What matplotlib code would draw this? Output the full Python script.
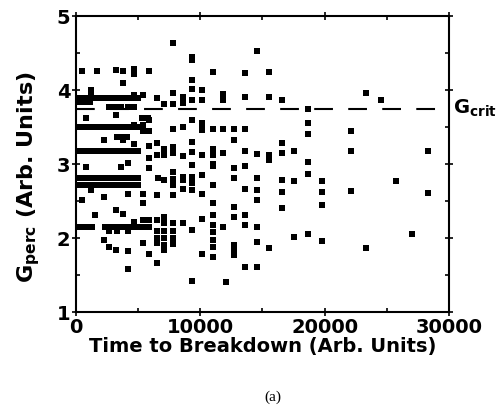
import matplotlib
matplotlib.use('Agg')
import matplotlib.pyplot as plt
from matplotlib.ticker import MultipleLocator

plt.rcParams['font.family'] = 'DejaVu Sans'
plt.rcParams['font.weight'] = 'bold'
plt.rcParams['mathtext.fontset'] = 'custom'
plt.rcParams['mathtext.rm'] = 'DejaVu Sans:bold'
plt.rcParams['mathtext.bf'] = 'DejaVu Sans:bold'
plt.rcParams['lines.scale_dashes'] = False

# early, dense part of the data (t < 7000)
time_early = [460, 1690, 3220, 3750, 4690, 4690, 5890,
              3750, 1210, 1210, 4690, 5360,
              160, 550, 950, 1350, 1750, 2150, 2550, 2950, 3350, 3750, 4150, 4550, 5000, 6510,
              160, 650, 1100,
              2650, 3150, 3650, 4150, 4650,
              3220, 800, 5300, 5800, 4690, 5890, 5360,
              160, 500, 900, 1300, 1700, 2100, 2500, 2900, 3300, 3700, 4100, 4500, 5000,
              5360, 5890,
              3300, 3700, 4100, 2280, 3750, 4690, 5890, 6510,
              160, 500, 900, 1300, 1700, 2100, 2500, 2900, 3300, 3700, 4100, 4500, 5000,
              6510, 5890, 4160, 800, 3620, 5890,
              160, 550, 950, 1350, 1750, 2150, 2550, 2950, 3350, 3750, 4150, 4550, 5000, 6630,
              160, 550, 950, 1350, 1750, 2150, 2550, 2950, 3350, 3750, 4150, 4550, 5000,
              1210, 4160, 5360, 6510, 2280, 500, 5360,
              3220, 3750, 1500, 5360, 5890, 4690, 6510,
              160, 500, 900, 1300, 2300, 2700, 3100, 3500, 3900, 4300, 4700, 5100, 5500, 5900,
              2650, 3300, 4200, 6510,
              6510, 2280, 5360, 6510, 2650, 3220, 4160, 5890, 6510, 4160]
g_early = [4.26, 4.26, 4.27, 4.26, 4.29, 4.22, 4.26,
           4.09, 4.00, 3.93, 3.93, 3.93,
           3.89, 3.89, 3.89, 3.89, 3.89, 3.89, 3.89, 3.89, 3.89, 3.89, 3.89, 3.89, 3.89, 3.89,
           3.84, 3.84, 3.84,
           3.77, 3.77, 3.77, 3.77, 3.77,
           3.66, 3.62, 3.62, 3.62, 3.53, 3.59, 3.53,
           3.50, 3.50, 3.50, 3.50, 3.50, 3.50, 3.50, 3.50, 3.50, 3.50, 3.50, 3.50, 3.50,
           3.45, 3.45,
           3.37, 3.37, 3.37, 3.32, 3.32, 3.27, 3.25, 3.28,
           3.17, 3.17, 3.17, 3.17, 3.17, 3.17, 3.17, 3.17, 3.17, 3.17, 3.17, 3.17, 3.17,
           3.12, 3.08, 3.02, 2.96, 2.96, 2.94,
           2.81, 2.81, 2.81, 2.81, 2.81, 2.81, 2.81, 2.81, 2.81, 2.81, 2.81, 2.81, 2.81, 2.81,
           2.72, 2.72, 2.72, 2.72, 2.72, 2.72, 2.72, 2.72, 2.72, 2.72, 2.72, 2.72, 2.72,
           2.65, 2.60, 2.60, 2.58, 2.56, 2.51, 2.47,
           2.38, 2.33, 2.31, 2.25, 2.24, 2.22, 2.24,
           2.15, 2.15, 2.15, 2.15, 2.15, 2.15, 2.15, 2.15, 2.15, 2.15, 2.15, 2.15, 2.15, 2.15,
           2.10, 2.10, 2.10, 2.10,
           2.00, 1.97, 1.93, 1.93, 1.88, 1.84, 1.83, 1.79, 1.66, 1.58]

# later times, roughly in columns
time_late = [7100] * 10 + [7840] * 14 + [8580] * 8 + [9330] * 14 + [10130] * 10 + \
    [10990] * 14 + [11790] * 5 + [12060] + [12680] * 9 + [13590] * 9 + [14530] * 8 + \
    [15520] * 5 + [16540] * 6 + [17550] * 3 + [18680] * 6 + [19750] * 4 + [22110] * 3 + \
    [23300] * 2 + [24520] + [25730] + [26990] + [28320] * 2
g_late = [3.81, 3.20, 3.12, 2.79, 2.29, 2.20, 2.10, 2.00, 1.90, 1.84,
          4.63, 3.96, 3.81, 3.48, 3.23, 3.15, 2.89, 2.80, 2.72, 2.58, 2.20, 2.10, 2.00, 1.92,
          3.90, 3.82, 3.50, 3.11, 2.83, 2.78, 2.66, 2.20,
          4.45, 4.40, 4.13, 4.02, 3.87, 3.59, 3.30, 3.16, 2.99, 2.83, 2.75, 2.65, 2.11, 1.42,
          4.00, 3.87, 3.56, 3.53, 3.46, 3.12, 2.85, 2.60, 2.26, 1.78,
          4.25, 3.48, 3.20, 3.12, 3.00, 2.97, 2.72, 2.47, 2.31, 2.18, 2.08, 1.97, 1.88, 1.75,
          3.95, 3.87, 3.48, 3.15, 2.15,
          1.40,
          3.47, 3.32, 2.94, 2.81, 2.42, 2.28, 1.90, 1.84, 1.77,
          4.23, 3.90, 3.48, 3.17, 2.97, 2.66, 2.31, 2.17, 1.61,
          4.53, 3.14, 2.81, 2.65, 2.52, 2.15, 1.95, 1.61,
          4.25, 3.90, 3.12, 3.05, 1.86,
          3.87, 3.28, 3.15, 2.78, 2.62, 2.41,
          3.17, 2.77, 2.01,
          3.75, 3.56, 3.41, 3.03, 2.87, 2.05,
          2.77, 2.62, 2.45, 1.96,
          3.44, 3.17, 2.63,
          3.96, 1.86,
          3.87, 2.77, 2.06,
          3.17, 2.61]

g_crit = 3.75
crit_end = 29200

fig = plt.figure(figsize=(4.98, 4.15), dpi=100)
ax = fig.add_axes([0.1526, 0.248, 0.749, 0.7134])

ax.plot(time_early, g_early, 's', color='black', ms=4.8, mew=0)
ax.plot(time_late, g_late, 's', color='black', ms=4.8, mew=0)
ax.plot([0, crit_end], [g_crit, g_crit], color='black', lw=1.5, dashes=(13.5, 11))

ax.set_xlim(0, 30000)
ax.set_ylim(1, 5)
ax.xaxis.set_major_locator(MultipleLocator(10000))
ax.xaxis.set_minor_locator(MultipleLocator(5000))
ax.yaxis.set_major_locator(MultipleLocator(1))
ax.yaxis.set_minor_locator(MultipleLocator(0.5))
ax.tick_params(which='both', top=True, right=True, width=1.2, labelsize=14, pad=1)
ax.tick_params(which='major', direction='inout', length=6)
ax.tick_params(which='minor', direction='in', length=3)
for s in ax.spines.values():
    s.set_linewidth(1.5)

ax.set_xlabel('Time to Breakdown (Arb. Units)', fontsize=14, fontweight='bold', labelpad=0)
ax.set_ylabel(r'$\mathregular{G_{perc}}$ (Arb. Units)', fontsize=16, fontweight='bold')
ax.yaxis.set_label_coords(-0.09, 0.455)
ax.text(1.01, g_crit, r'$\mathregular{G_{crit}}$', transform=ax.get_yaxis_transform(),
        fontsize=14, va='center', ha='left')
fig.text(0.548, 0.042, '(a)', fontsize=11, family='Liberation Serif', fontweight='normal',
         ha='center', va='center')

fig.savefig('out.png', dpi=100)
